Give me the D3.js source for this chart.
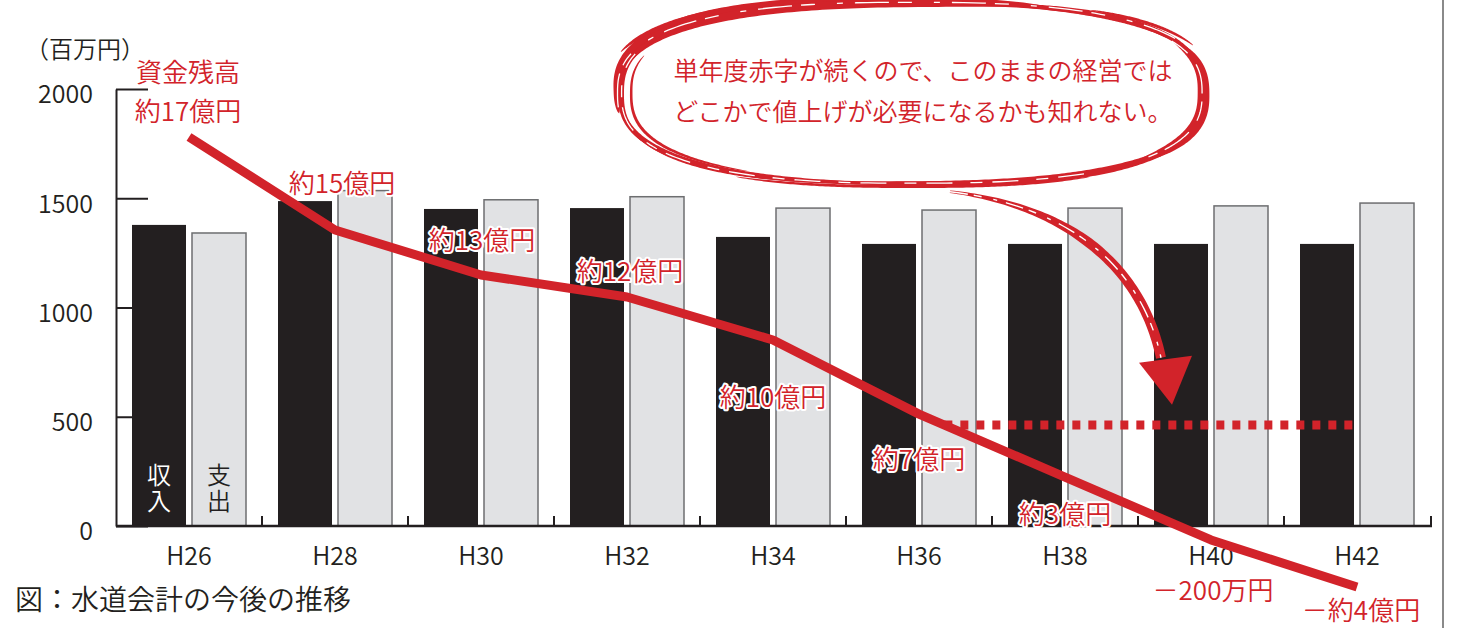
<!DOCTYPE html>
<html>
<head>
<meta charset="utf-8">
<script src="https://cdn.jsdelivr.net/npm/d3@7"></script>
<style>
  body { margin: 0; background: #fff; }
  svg { display: block; font-family: "Noto Sans CJK JP", sans-serif; font-weight: 350; }
</style>
</head>
<body>
<svg id="chart" width="1457" height="628"></svg>
<script>
// chart values (百万円)
const years = ["H26", "H28", "H30", "H32", "H34", "H36", "H38", "H40", "H42"];
const income = [1378, 1487, 1451, 1455, 1323, 1291, 1291, 1291, 1291];
const expense = [1341, 1535, 1493, 1507, 1455, 1446, 1455, 1465, 1478];
const balance = [1780, 1355, 1149, 1048, 851, 512, 224, -64, -279];
const balanceLabels = ["約17億円", "約15億円", "約13億円", "約12億円", "約10億円", "約7億円", "約3億円", "－200万円", "－約4億円"];
const balanceTitle = "資金残高";
const yTicks = [0, 500, 1000, 1500, 2000];
const warningLevel = 462;
const unitLabel = "（百万円）";
const caption = "図：水道会計の今後の推移";
const noteLines = ["単年度赤字が続くので、このままの経営では", "どこかで値上げが必要になるかも知れない。"];
const seriesNames = ["収入", "支出"];

// label offsets from each point of the balance line
const labelShift = [[-1, -16], [7, -37], [1, -25], [3, -16], [0, 67], [0, 55], [0, 47], [2, 60], [4, 33]];

const red = "#d2232a", ink = "#231f20";
const svg = d3.select("#chart");

const x = d3.scaleBand().domain(years).range([116, 1430]);
const xInner = d3.scaleBand().domain(["income", "expense"]).range([16, 130]).paddingInner(0.1);
const y = d3.scaleLinear().domain([0, 2000]).range([526, 89]);
const cx = d => x(d) + x.bandwidth() / 2;

// frame line on the right
svg.append("line")
    .attr("x1", 1443).attr("x2", 1443).attr("y1", 0).attr("y2", 628)
    .attr("stroke", "#8a8a8a").attr("stroke-width", 2);

// y axis (ticks point inward)
const yAxis = svg.append("g")
    .attr("transform", "translate(116,0)")
    .call(d3.axisLeft(y).tickValues(yTicks).tickSize(-32).tickSizeOuter(0).tickPadding(23).tickFormat(d3.format("d")));
yAxis.attr("font-family", null);
yAxis.select(".domain").attr("stroke", ink).attr("stroke-width", 2);
yAxis.selectAll(".tick line").attr("stroke", ink).attr("stroke-width", 2);
yAxis.selectAll(".tick text").attr("fill", ink).attr("font-size", 25).attr("dy", "0.55em");

svg.append("text")
    .attr("x", 25).attr("y", 58)
    .attr("font-size", 24).attr("fill", ink)
    .text(unitLabel);

// bars
const groups = svg.append("g").selectAll("g")
    .data(years)
    .join("g")
    .attr("transform", d => "translate(" + x(d) + ",0)");

groups.append("rect")
    .attr("x", xInner("income"))
    .attr("y", (d, i) => y(income[i]))
    .attr("width", xInner.bandwidth())
    .attr("height", (d, i) => y(0) - y(income[i]))
    .attr("fill", ink);

groups.append("rect")
    .attr("x", xInner("expense"))
    .attr("y", (d, i) => y(expense[i]))
    .attr("width", xInner.bandwidth())
    .attr("height", (d, i) => y(0) - y(expense[i]))
    .attr("fill", "#e1e2e4")
    .attr("stroke", "#6d6e70")
    .attr("stroke-width", 1.5);

// vertical series names inside the first pair
svg.append("g").selectAll("text")
    .data(seriesNames)
    .join("text")
    .attr("x", (d, i) => x(years[0]) + xInner(xInner.domain()[i]) + xInner.bandwidth() / 2)
    .attr("y", 463)
    .attr("writing-mode", "vertical-rl")
    .attr("letter-spacing", 2)
    .attr("font-size", 24)
    .attr("fill", (d, i) => i === 0 ? "#fff" : ink)
    .text(d => d);

// x axis: baseline, boundary ticks, labels
svg.append("line")
    .attr("x1", 116).attr("x2", x.range()[1] + 2)
    .attr("y1", y(0)).attr("y2", y(0))
    .attr("stroke", ink).attr("stroke-width", 2.5);

const bounds = years.slice(1).map(d => x(d)).concat([x.range()[1] + 1]);
svg.append("g").selectAll("line")
    .data(bounds)
    .join("line")
    .attr("x1", d => d).attr("x2", d => d)
    .attr("y1", y(0)).attr("y2", y(0) - 10)
    .attr("stroke", ink).attr("stroke-width", 2);

const xAxis = svg.append("g")
    .attr("transform", "translate(0," + y(0) + ")")
    .call(d3.axisBottom(x).tickSize(0).tickSizeOuter(0));
xAxis.attr("font-family", null);
xAxis.select(".domain").remove();
xAxis.selectAll("text").attr("y", 39).attr("dy", null).attr("font-size", 25).attr("fill", ink);

// warning level dotted line, from where the balance drops below it
let cross = years.length - 1;
for (let i = 1; i < balance.length; i++) {
    if (balance[i] < warningLevel) { cross = i; break; }
}
const t = (balance[cross - 1] - warningLevel) / (balance[cross - 1] - balance[cross]);
const crossX = cx(years[cross - 1]) + t * (cx(years[cross]) - cx(years[cross - 1]));
svg.append("line")
    .attr("x1", crossX).attr("x2", cx(years[years.length - 1]))
    .attr("y1", y(warningLevel)).attr("y2", y(warningLevel))
    .attr("stroke", red).attr("stroke-width", 9)
    .attr("stroke-dasharray", "8,8");

// balance line
const line = d3.line()
    .x((d, i) => cx(years[i]))
    .y(d => y(d));
svg.append("path")
    .datum(balance)
    .attr("d", line)
    .attr("fill", "none")
    .attr("stroke", red)
    .attr("stroke-width", 9)
    .attr("stroke-linejoin", "round");

// balance labels with white halo
const labels = svg.append("g")
    .attr("font-size", 26).attr("fill", red).attr("text-anchor", "middle")
    .attr("stroke", "#fff").attr("stroke-width", 4).attr("paint-order", "stroke")
    .attr("stroke-linejoin", "round");
labels.selectAll("text")
    .data(balanceLabels)
    .join("text")
    .attr("x", (d, i) => cx(years[i]) + labelShift[i][0])
    .attr("y", (d, i) => y(balance[i]) + labelShift[i][1])
    .text(d => d);
labels.append("text")
    .attr("x", cx(years[0]) + labelShift[0][0])
    .attr("y", y(balance[0]) - 55)
    .text(balanceTitle);

// brushed oval around the note
const oc = { x: cx("H36") - 6, y: y(1980), rx: x.step() * 2, ry: 90 };
function oval(a, s) {
    const c = Math.cos(a), si = Math.sin(a), e = 2 / 2.6;
    return [oc.x + s * oc.rx * Math.sign(c) * Math.pow(Math.abs(c), e),
            oc.y + s * oc.ry * Math.sign(si) * Math.pow(Math.abs(si), e)];
}
function brush(pointAt, wMax, steps, widthAt) {
    const left = [], right = [];
    for (let i = 0; i <= steps; i++) {
        const u = i / steps;
        const p = pointAt(u), q = pointAt(Math.min(1, u + 0.002)), r = pointAt(Math.max(0, u - 0.002));
        let tx = q[0] - r[0], ty = q[1] - r[1];
        const len = Math.hypot(tx, ty) || 1;
        tx /= len; ty /= len;
        const w = wMax * widthAt(u) / 2;
        left.push([p[0] - ty * w, p[1] + tx * w]);
        right.push([p[0] + ty * w, p[1] - tx * w]);
    }
    return left.concat(right.reverse());
}
const rad = d => d * Math.PI / 180;
const swell = u => Math.pow(Math.sin(Math.PI * u), 0.5);
const polyPath = d3.line().curve(d3.curveLinearClosed);

// [from deg, to deg, width, radial scale]
const strokes = [
    [0, 360, 3.5, 1.0],
    [172, 290, 14, 1.014],
    [200, 265, 5, 1.05],
    [280, 338, 6, 1.005],
    [300, 335, 3, 1.035],
    [330, 405, 12, 0.995],
    [20, 100, 7, 1.0],
    [60, 120, 3, 1.035],
    [95, 170, 6, 0.995],
    [120, 200, 3, 0.965],
    [150, 215, 6, 1.0]
];
const ovalG = svg.append("g");
strokes.forEach(s => {
    const a0 = rad(s[0]), a1 = rad(s[1]);
    const pts = brush(u => oval(a0 + (a1 - a0) * u, s[3]), s[2], 120, s[1] - s[0] >= 360 ? () => 1 : swell);
    ovalG.append("path").attr("d", polyPath(pts)).attr("fill", red);
});
// scratches in the brush
[[175, 330, 1.012, "34 9 14 22 6 12"], [330, 400, 0.99, "20 14 30 8"], [60, 200, 0.998, "26 10 12 18"]].forEach(s => {
    const a0 = rad(s[0]), a1 = rad(s[1]);
    const pts = d3.range(0, 1.001, 0.01).map(u => oval(a0 + (a1 - a0) * u, s[2]));
    ovalG.append("path")
        .attr("d", d3.line()(pts))
        .attr("fill", "none").attr("stroke", "#fff").attr("stroke-width", 1.3)
        .attr("stroke-dasharray", s[3]);
});

// note text
svg.append("g")
    .attr("font-size", 25).attr("fill", red).attr("text-anchor", "middle")
    .selectAll("text")
    .data(noteLines)
    .join("text")
    .attr("x", oc.x + 10)
    .attr("y", (d, i) => 80 + i * 41)
    .text(d => d);

// curved arrow down to the H40 pair
const p0 = [x("H38") - 42, y(1530)], p1 = [x("H38") + 68, y(1470)],
      p2 = [x("H40") + 2, y(1220)], p3 = [x("H40") + 23, y(770)];
const tip = [x("H40") + 34, y(555)];
function bez(u) {
    const v = 1 - u;
    return [v * v * v * p0[0] + 3 * v * v * u * p1[0] + 3 * v * u * u * p2[0] + u * u * u * p3[0],
            v * v * v * p0[1] + 3 * v * v * u * p1[1] + 3 * v * u * u * p2[1] + u * u * u * p3[1]];
}
const arrowG = svg.append("g");
arrowG.append("path")
    .attr("d", polyPath(brush(bez, 10, 80, u => Math.min(1, 0.25 + u * 1.5))))
    .attr("fill", red);
arrowG.append("path")
    .attr("d", d3.line()(d3.range(0, 1.001, 0.02).map(bez)))
    .attr("fill", "none").attr("stroke", "#fff").attr("stroke-width", 1.4)
    .attr("stroke-dasharray", "18 6 8 12 4 9");
arrowG.append("path")
    .attr("d", polyPath([[tip[0] - 33, tip[1] - 42], [tip[0] + 20, tip[1] - 49], tip]))
    .attr("fill", red);

// caption
svg.append("text")
    .attr("x", 15).attr("y", 610)
    .attr("font-size", 28).attr("fill", ink)
    .text(caption);
</script>
</body>
</html>
